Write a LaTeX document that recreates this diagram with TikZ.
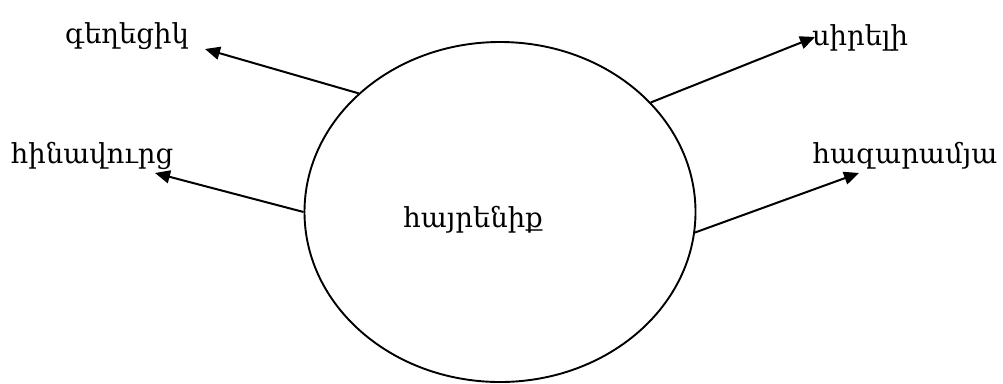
\documentclass[tikz,border=0pt]{standalone}
\usepackage{fontspec}
\setmainfont{DejaVu Serif}
\usetikzlibrary{arrows.meta,shapes.geometric}
\tikzset{
  word/.style={inner sep=0pt, anchor=base, font=\fontsize{27.5}{33}\selectfont},
  conn/.style={line width=2pt, -{Triangle[length=15pt,width=13pt]}},
  oval/.style={draw, line width=1.9pt, ellipse, inner sep=0pt, minimum width=391pt, minimum height=340pt}
}
\begin{document}
\begin{tikzpicture}[x=1pt,y=-1pt]
\useasboundingbox (0,0) rectangle (1003,383);
\node[oval] (e) at (500,212) {};
\node[word] (c) at (473,227) {հայրենիք};
\node[word] (w1) at (127,43) {գեղեցիկ};
\node[word] (w2) at (92,163) {հինավուրց};
\node[word] (w3) at (860,45) {սիրելի};
\node[word] (w4) at (905,163) {հազարամյա};
\coordinate (t1) at (205,49);
\coordinate (t2) at (155,173);
\coordinate (t3) at (815,37);
\coordinate (t4) at (859,173);
\draw[conn] (e.140) -- (t1);
\draw[conn] (e.180) -- (t2);
\draw[conn] (e.36.4) -- (t3);
\draw[conn] (e.-6.7) -- (t4);
\end{tikzpicture}
\end{document}
